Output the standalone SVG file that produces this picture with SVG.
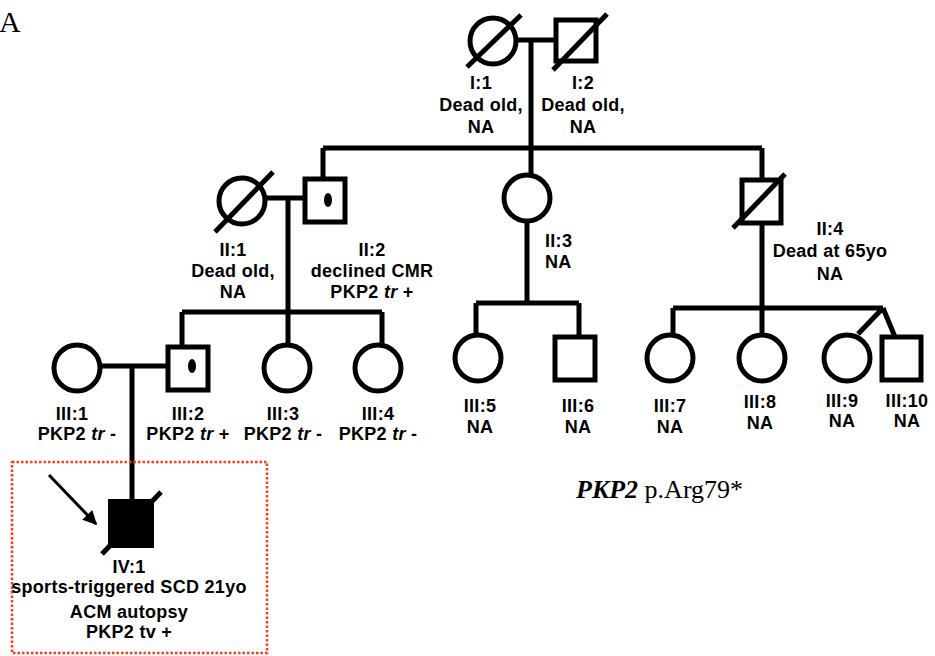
<svg xmlns="http://www.w3.org/2000/svg" width="935" height="656" viewBox="0 0 935 656">
<style>
.s{fill:none;stroke:#000;stroke-width:5}
.f{fill:#fff;stroke:#000;stroke-width:5}
.t{font-family:"Liberation Sans",Arial,sans-serif;font-weight:bold;font-size:18px;letter-spacing:0.3px;fill:#000;text-anchor:middle}
.l{text-anchor:start}
.tm{font-family:"Liberation Serif","Times New Roman",serif;fill:#000}
</style>
<defs>
<marker id="ah2" viewBox="0 0 10 10" refX="9" refY="5" markerWidth="16" markerHeight="14" orient="auto" markerUnits="userSpaceOnUse">
<path d="M0,0 L10,5 L0,10 z" fill="#000"/>
</marker>
</defs>
<rect width="935" height="656" fill="#fff"/>
<text class="tm" x="-1" y="32" font-size="30">A</text>

<g id="connectors" class="s">
<path d="M516,40 H556 M531,40 V148 M323,148 H762 M323,148 V179 M531,148 V175 M762,148 V180"/>
<path d="M265,198 H305 M288,198 V312 M182,312 H382 M182,312 V347 M288,312 V345 M382,312 V345"/>
<path d="M527,221 V303 M476,303 H579 M476,303 V335 M579,303 V337"/>
<path d="M762,223 V308 M673,308 H883 M673,308 V335 M762,308 V335 M883,308 L858,334 M883,308 L895,337"/>
<path d="M100,366 H168 M132,366 V499"/>
<path d="M49,475 L96,524" stroke-width="3" marker-end="url(#ah2)"/>
</g>

<g id="I1">
<circle class="f" cx="493" cy="41" r="23"/>
<line class="s" x1="467" y1="67" x2="521" y2="15"/>
<text class="t" x="481" y="89">I:1</text>
<text class="t" x="481" y="111">Dead old,</text>
<text class="t" x="481" y="133">NA</text>
</g>
<g id="I2">
<rect class="f" x="556" y="20" width="40" height="41"/>
<line class="s" x1="553" y1="70" x2="607" y2="14"/>
<text class="t" x="583" y="89">I:2</text>
<text class="t" x="583" y="111">Dead old,</text>
<text class="t" x="583" y="133">NA</text>
</g>

<g id="II1">
<circle class="f" cx="242" cy="201" r="23"/>
<line class="s" x1="215" y1="232" x2="273" y2="172"/>
<text class="t" x="233" y="256">II:1</text>
<text class="t" x="233" y="277">Dead old,</text>
<text class="t" x="233" y="298">NA</text>
</g>
<g id="II2">
<rect class="f" x="305" y="179" width="40" height="43"/>
<ellipse cx="328" cy="200" rx="4" ry="7" fill="#000"/>
<text class="t" x="372" y="256">II:2</text>
<text class="t" x="372" y="277">declined CMR</text>
<text class="t" x="372" y="298">PKP2 <tspan font-style="italic">tr</tspan> +</text>
</g>
<g id="II3">
<circle class="f" cx="527" cy="198" r="23"/>
<text class="t l" x="545" y="247">II:3</text>
<text class="t l" x="545" y="268">NA</text>
</g>
<g id="II4">
<rect class="f" x="742" y="180" width="39" height="43"/>
<line class="s" x1="733" y1="228" x2="785" y2="174"/>
<text class="t" x="830" y="235">II:4</text>
<text class="t" x="830" y="257">Dead at 65yo</text>
<text class="t" x="830" y="280">NA</text>
</g>

<g id="III1">
<circle class="f" cx="77" cy="368" r="23"/>
<text class="t" x="72" y="420">III:1</text>
<text class="t" x="77" y="440">PKP2 <tspan font-style="italic">tr</tspan> -</text>
</g>
<g id="III2">
<rect class="f" x="168" y="347" width="40" height="43"/>
<ellipse cx="192" cy="366" rx="4" ry="7" fill="#000"/>
<text class="t" x="188" y="420">III:2</text>
<text class="t" x="188" y="440">PKP2 <tspan font-style="italic">tr</tspan> +</text>
</g>
<g id="III3">
<circle class="f" cx="287" cy="368" r="23"/>
<text class="t" x="283" y="420">III:3</text>
<text class="t" x="283" y="440">PKP2 <tspan font-style="italic">tr</tspan> -</text>
</g>
<g id="III4">
<circle class="f" cx="378" cy="368" r="23"/>
<text class="t" x="378" y="420">III:4</text>
<text class="t" x="378" y="440">PKP2 <tspan font-style="italic">tr</tspan> -</text>
</g>
<g id="III5">
<circle class="f" cx="478" cy="358" r="23"/>
<text class="t" x="480" y="412">III:5</text>
<text class="t" x="480" y="433">NA</text>
</g>
<g id="III6">
<rect class="f" x="555" y="337" width="40" height="43"/>
<text class="t" x="578" y="412">III:6</text>
<text class="t" x="578" y="433">NA</text>
</g>
<g id="III7">
<circle class="f" cx="670" cy="358" r="23"/>
<text class="t" x="670" y="412">III:7</text>
<text class="t" x="670" y="433">NA</text>
</g>
<g id="III8">
<circle class="f" cx="762" cy="358" r="23"/>
<text class="t" x="760" y="408">III:8</text>
<text class="t" x="760" y="429">NA</text>
</g>
<g id="III9">
<circle class="f" cx="847" cy="358" r="23"/>
<text class="t" x="842" y="407">III:9</text>
<text class="t" x="842" y="427">NA</text>
</g>
<g id="III10">
<rect class="f" x="882" y="337" width="39" height="43"/>
<text class="t" x="907" y="407">III:10</text>
<text class="t" x="907" y="427">NA</text>
</g>

<g id="IV1">
<rect x="12" y="462" width="255" height="191" fill="none" stroke="#ff3b1f" stroke-width="2.5" stroke-dasharray="2.5,2"/>
<rect x="108" y="499" width="46" height="49" fill="#000"/>
<line class="s" x1="102" y1="554" x2="161" y2="492"/>
<text class="t" x="129" y="573">IV:1</text>
<text class="t" x="129" y="593">sports-triggered SCD 21yo</text>
<text class="t" x="129" y="618">ACM autopsy</text>
<text class="t" x="129" y="638">PKP2 tv +</text>
</g>

<text class="tm" x="576" y="498" font-size="26"><tspan font-weight="bold" font-style="italic">PKP2</tspan> p.Arg79*</text>
</svg>
